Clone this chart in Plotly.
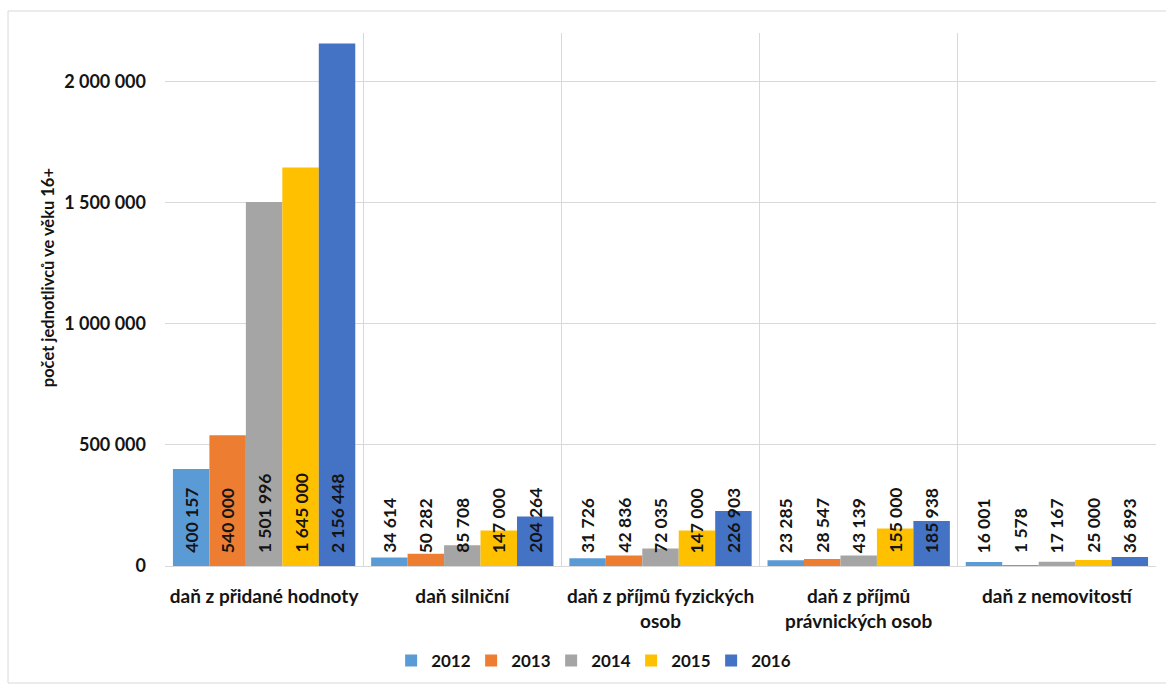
import plotly.graph_objects as go

# Tax types (x categories) and yearly counts of individuals aged 16+
categories = [
    "daň z přidané hodnoty",
    "daň silniční",
    "daň z příjmů fyzických<br>osob",
    "daň z příjmů<br>právnických osob",
    "daň z nemovitostí",
]
years = ["2012", "2013", "2014", "2015", "2016"]
values_2012 = [400157, 34614, 31726, 23285, 16001]
values_2013 = [540000, 50282, 42836, 28547, 1578]
values_2014 = [1501996, 85708, 72035, 43139, 17167]
values_2015 = [1645000, 147000, 147000, 155000, 25000]
values_2016 = [2156448, 204264, 226903, 185938, 36893]
series = [values_2012, values_2013, values_2014, values_2015, values_2016]
colors = ["#5B9BD5", "#ED7D31", "#A5A5A5", "#FFC000", "#4472C4"]

FONT = "Lato"
TXT = "#141414"
BARGAP = 0.08

fig = go.Figure()
for year, vals, col in zip(years, series, colors):
    fig.add_trace(go.Bar(
        name=year, x=categories, y=vals, marker=dict(color=col, line=dict(width=0)),
    ))

# value labels: rotated, anchored at the base of each bar
n = len(series)
w = (1 - BARGAP) / n
annotations = []
for i, vals in enumerate(series):
    for k, v in enumerate(vals):
        annotations.append(dict(
            x=k + (i - (n - 1) / 2) * w, y=0, xref="x", yref="y",
            text="<b>" + f"{v:,}".replace(",", " ") + "</b>",
            textangle=-90, showarrow=False, xanchor="center", yanchor="bottom",
            yshift=11, font=dict(family=FONT, size=17.5, color=TXT),
        ))

annotations.append(dict(
    x=-0.118, y=0.54, xref="paper", yref="paper",
    text="<b>počet jednotlivců ve věku 16+</b>", textangle=-90, showarrow=False,
    xanchor="center", yanchor="middle", font=dict(family=FONT, size=16.5, color=TXT),
))

fig.update_layout(
    width=1166, height=684,
    margin=dict(l=165, r=10, t=33, b=118, autoexpand=False),
    paper_bgcolor="white", plot_bgcolor="white",
    barmode="group", bargap=BARGAP, bargroupgap=0,
    separators=", ",
    font=dict(family=FONT, color=TXT),
    annotations=annotations,
    legend=dict(
        orientation="h", x=0.43, y=-0.178, xanchor="center", yanchor="middle",
        font=dict(family=FONT, size=17, color=TXT, weight="bold"),
        itemwidth=30, traceorder="normal",
        entrywidth=35, entrywidthmode="pixels",
    ),
    shapes=[dict(
        type="rect", xref="paper", yref="paper",
        x0=-0.1584, x1=1.03, y0=-0.2195, y1=1.0413,
        line=dict(color="#d9d9d9", width=1), layer="below",
    )],
)

fig.update_xaxes(
    automargin=False,
    tickson="boundaries", showgrid=True, gridcolor="#d9d9d9", gridwidth=1,
    showline=False, ticks="", ticklabelstandoff=17,
    tickfont=dict(family=FONT, size=19, color=TXT, weight="bold"),
)
fig.update_yaxes(
    automargin=False,
    range=[0, 2200000], dtick=500000, tickformat=",d",
    showgrid=True, gridcolor="#d9d9d9", gridwidth=1,
    zeroline=True, zerolinecolor="#d9d9d9", zerolinewidth=1,
    ticks="", ticklabelstandoff=18,
    tickfont=dict(family=FONT, size=18, color=TXT, weight="bold"),
)

fig.write_html("out.html")
